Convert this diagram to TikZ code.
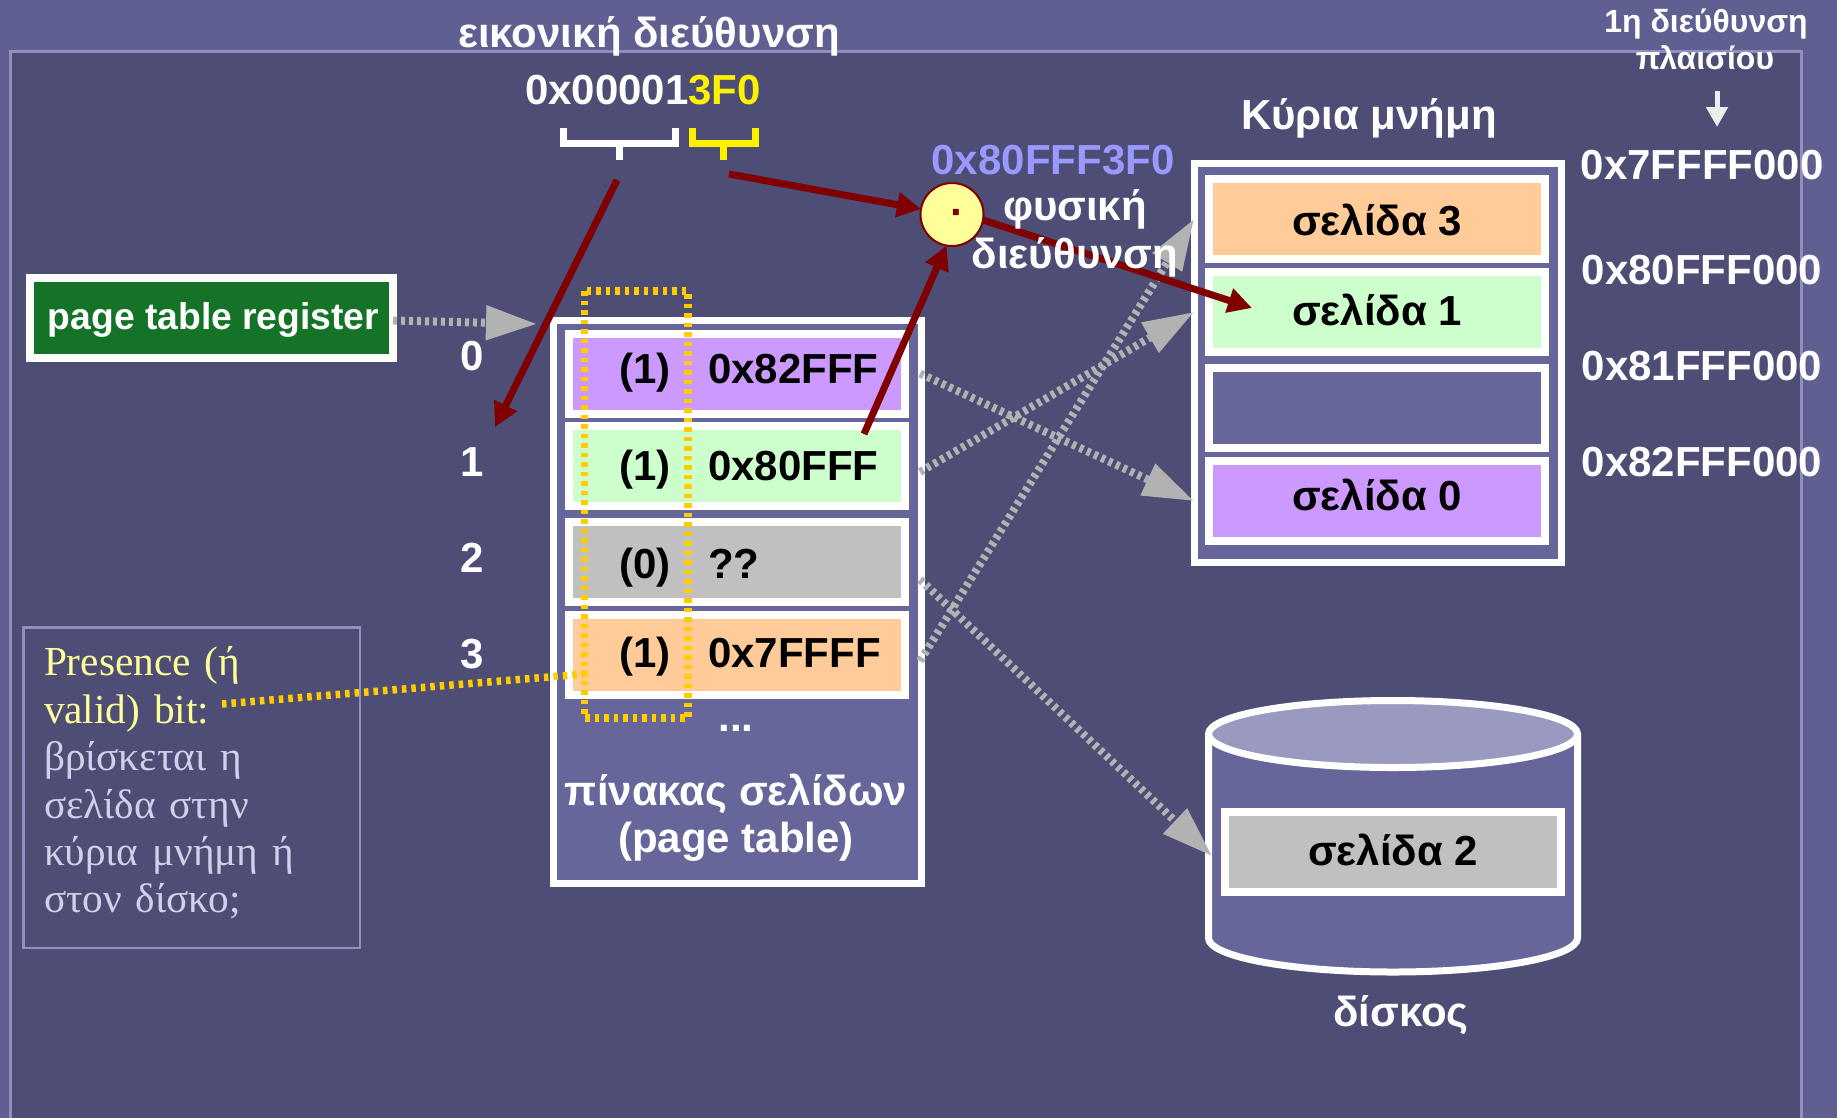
\documentclass[tikz,border=0pt]{standalone}
\usepackage{fontspec}
\setmainfont{Liberation Sans}
\newfontfamily\notefont{Liberation Serif}
\usepackage{tikz}
\usetikzlibrary{arrows.meta}
\definecolor{outerbg}{RGB}{95,95,145}
\definecolor{innerbg}{RGB}{77,77,117}
\definecolor{frameline}{RGB}{143,143,192}
\definecolor{boxfill}{RGB}{102,102,154}
\definecolor{diskfill}{RGB}{154,154,192}
\definecolor{pageorange}{RGB}{255,204,153}
\definecolor{pagegreen}{RGB}{204,255,204}
\definecolor{pagepurple}{RGB}{204,153,255}
\definecolor{pagegrey}{RGB}{192,192,192}
\definecolor{regfill}{RGB}{20,115,38}
\definecolor{darkarrow}{RGB}{128,0,0}
\definecolor{greyarrow}{RGB}{178,178,178}
\definecolor{physaddr}{RGB}{153,153,255}
\definecolor{dotyellow}{RGB}{255,204,0}
\definecolor{noteyellow}{RGB}{255,255,153}
\definecolor{notegrey}{RGB}{208,208,232}
\newcommand{\labfont}{\bfseries\fontsize{11.95}{14}\selectfont}
\tikzset{%
  tipRed/.tip={Triangle[length=2.4mm,width=2.4mm]},
  tipGrey/.tip={Triangle[length=5.1mm,width=3.3mm]},
  tipSmall/.tip={Triangle[length=2mm,width=2.1mm]},
  lab/.style={font=\labfont,text=white,inner sep=0pt,outer sep=0pt,anchor=base},
  blacklab/.style={lab,text=black},
  slot/.style={draw=white,line width=.08cm,minimum width=3.36cm,minimum height=.8cm,inner sep=0pt,outer sep=0pt,font=\labfont,text=black,text height=.32cm,text depth=0pt},
  bigbox/.style={draw=white,line width=.07cm,fill=boxfill,inner sep=0pt,outer sep=0pt},
  redarrow/.style={draw=darkarrow,line width=.07cm,-{tipRed}},
  dotarrow/.style={draw=greyarrow,line width=.08cm,dash pattern=on .04cm off .04cm,-{tipGrey}},
  yellowdots/.style={draw=dotyellow,line width=.075cm,dash pattern=on .045cm off .05cm},
}
\begin{document}
\begin{tikzpicture}[y=-1cm]
\useasboundingbox (0,0) rectangle (18.37,11.17);
\fill[outerbg] (-.1,-.1) rectangle (18.5,11.3);
\fill[innerbg] (.10,.51) rectangle (18.01,11.3);
\draw[frameline,line width=.03cm] (.10,11.3) -- (.10,.51) -- (18.01,.51) -- (18.01,11.3);
\node[lab] (virtlabel) at (6.49,.47) {εικονική διεύθυνση};
\node[lab] (virtaddr) at (6.43,1.046) {0x00001\textcolor{yellow}{3F0}};
\draw[white,line width=.07cm] (5.63,1.28) -- (5.63,1.435) -- (6.75,1.435) -- (6.75,1.28);
\draw[white,line width=.07cm] (6.19,1.435) -- (6.19,1.60);
\draw[yellow,line width=.07cm] (6.92,1.28) -- (6.92,1.435) -- (7.55,1.435) -- (7.55,1.28);
\draw[yellow,line width=.07cm] (7.23,1.435) -- (7.23,1.60);
\node[draw=white,line width=.08cm,fill=regfill,minimum width=3.63cm,minimum height=.8cm,inner sep=0pt,outer sep=0pt] (register) at (2.115,3.175) {};
\node[lab,font=\bfseries\fontsize{10.6}{13}\selectfont] (registertext) at (2.135,3.29) {page table register};
\node[lab] (idx0) at (4.72,3.707) {0};
\node[lab] (idx1) at (4.72,4.768) {1};
\node[lab] (idx2) at (4.72,5.72) {2};
\node[lab] (idx3) at (4.72,6.68) {3};
\node[bigbox,minimum width=3.675cm,minimum height=5.635cm] (ptable) at (7.3725,6.0175) {};
\node[slot,fill=pagepurple] (row0) at (7.37,3.735) {};
\node[slot,fill=pagegreen] (row1) at (7.37,4.66) {};
\node[slot,fill=pagegrey] (row2) at (7.37,5.62) {};
\node[slot,fill=pageorange] (row3) at (7.37,6.55) {};
\node[blacklab] (bit0) at (6.45,3.83) {(1)};
\node[blacklab] (bit1) at (6.45,4.80) {(1)};
\node[blacklab] (bit2) at (6.45,5.78) {(0)};
\node[blacklab] (bit3) at (6.45,6.676) {(1)};
\node[blacklab,anchor=base west] (frame0) at (7.08,3.83) {0x82FFF};
\node[blacklab,anchor=base west] (frame1) at (7.08,4.80) {0x80FFF};
\node[blacklab,anchor=base west] (frame2) at (7.08,5.78) {??};
\node[blacklab,anchor=base west] (frame3) at (7.08,6.676) {0x7FFFF};
\node[lab] (dots) at (7.36,7.316) {...};
\node[lab] (ptablename) at (7.36,8.05) {πίνακας σελίδων};
\node[lab] (ptablename2) at (7.36,8.52) {(page table)};
\draw[yellowdots] (5.845,2.91) rectangle (6.88,7.18);
\node[bigbox,minimum width=3.67cm,minimum height=3.99cm] (memory) at (13.775,3.625) {};
\node[slot,fill=pageorange] (page3) at (13.77,2.19) {σελίδα 3};
\node[slot,fill=pagegreen,text height=.26cm] (page1) at (13.77,3.12) {σελίδα 1};
\node[slot,fill=boxfill] (pageempty) at (13.77,4.08) {};
\node[slot,fill=pagepurple,text height=.19cm] (page0) at (13.77,5.01) {σελίδα 0};
\node[lab] (memlabel) at (13.69,1.29) {Κύρια μνήμη};
\node[lab] (addr0) at (17.02,1.79) {0x7FFFF000};
\node[lab] (addr1) at (17.02,2.84) {0x80FFF000};
\node[lab] (addr2) at (17.02,3.80) {0x81FFF000};
\node[lab] (addr3) at (17.02,4.76) {0x82FFF000};
\node[lab,font=\bfseries\fontsize{9.1}{11}\selectfont] (firstaddr) at (17.06,.33) {1η διεύθυνση};
\node[lab,font=\bfseries\fontsize{9.1}{11}\selectfont] (firstaddr2) at (17.05,.69) {πλαισίου};
\coordinate (smalltop) at (17.17,.91);
\coordinate (smalltip) at (17.17,1.27);
\draw[draw=white!93!black,line width=.05cm,-{tipSmall}] (smalltop) -- (smalltip);
\draw[bigbox] (12.085,7.34) -- (12.085,9.38) arc[start angle=180,end angle=360,x radius=1.845cm,y radius=.34cm] -- (15.775,7.34);
\draw[white,line width=.07cm,fill=diskfill] (13.93,7.34) ellipse[x radius=1.845cm,y radius=.335cm];
\node[slot,fill=pagegrey,text height=.27cm] (page2) at (13.93,8.52) {σελίδα 2};
\node[lab] (disklabel) at (14.01,10.26) {δίσκος};
\draw[dotarrow] ([yshift=-.03cm]register.east) -- ([xshift=-.165cm,yshift=-.065cm]ptable.north west |- register.east);
\draw[dotarrow] ([xshift=.15cm]row0.east) -- (memory.west |- page0.west);
\draw[dotarrow] ([xshift=.15cm,yshift=-.06cm]row1.east) -- (memory.west |- page1.west);
\draw[dotarrow] ([xshift=.15cm,yshift=-.175cm]row2.east) -- ([xshift=-.13cm,yshift=-.04cm]page2.west);
\draw[dotarrow] ([xshift=.15cm,yshift=-.06cm]row3.east) -- (memory.west |- page3.west);
\coordinate (vpn) at (6.17,1.80);
\coordinate (vpntip) at (4.95,4.27);
\coordinate (offset) at (7.29,1.74);
\coordinate (frametail) at (8.64,4.34);
\node[circle,draw=darkarrow,line width=.02cm,fill=noteyellow,minimum size=.63cm,inner sep=0pt,outer sep=0pt,font=\labfont,text=darkarrow] (sum) at (9.52,2.145) {\raisebox{-.12cm}[0pt][0pt]{\hspace{.1cm}·}};
\draw[redarrow] (vpn) -- (vpntip);
\draw[redarrow] (offset) -- (sum.170);
\draw[redarrow] (frametail) -- (sum.260);
\draw[redarrow] (sum.-10) -- ([xshift=.43cm,yshift=.04cm]page1.west);
\node[lab,text=physaddr] (physvalue) at (10.53,1.74) {0x80FFF3F0};
\node[lab] (physlabel) at (10.75,2.20) {φυσική};
\node[lab] (physlabel2) at (10.75,2.68) {διεύθυνση};
\node[draw=frameline,line width=.025cm,anchor=north west,minimum width=3.365cm,minimum height=3.205cm,text width=2.955cm,inner xsep=.205cm,inner ysep=0pt,outer sep=0pt,align=left,text=notegrey,font=\notefont\fontsize{11.75}{13.5}\selectfont] (note) at (.235,6.275) {\textcolor{noteyellow}{Presence (ή}\\\textcolor{noteyellow}{valid) bit:}\\βρίσκεται η\\σελίδα στην\\κύρια μνήμη ή\\στον δίσκο;\rule[-.16cm]{0pt}{0pt}};
\coordinate (notetail) at (2.22,7.04);
\coordinate (bitcol) at (5.85,6.74);
\draw[yellowdots] (notetail) -- (bitcol);
\end{tikzpicture}
\end{document}
